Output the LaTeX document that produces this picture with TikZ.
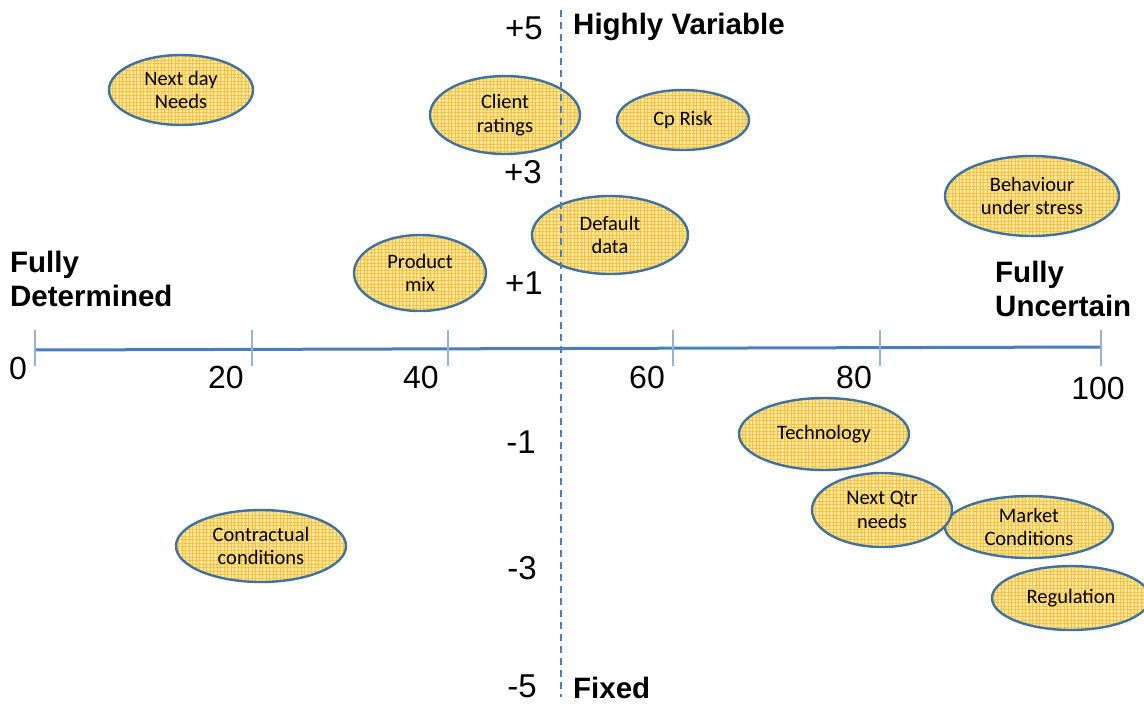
\documentclass[tikz,border=0pt]{standalone}
\usepackage{fontspec}
\setmainfont{Liberation Sans}
\newfontfamily\fatorfont{Carlito}
\usetikzlibrary{shapes.geometric,patterns.meta}
\definecolor{eixo}{HTML}{4A7EBB}
\definecolor{marca}{HTML}{95B3D7}
\definecolor{fatorfill}{HTML}{FFE796}
\definecolor{fatorgrade}{HTML}{F4C24C}
\definecolor{fatorlinha}{HTML}{41719C}
\tikzset{
  eixoh/.style={draw=eixo,line width=3pt},
  eixov/.style={draw=eixo,line width=1.8pt,dash pattern=on 7pt off 5pt},
  marcax/.style={draw=marca,line width=1.4pt},
  rotx/.style={font=\fontsize{32}{36}\selectfont,inner sep=0pt},
  roty/.style={font=\fontsize{33}{36}\selectfont,inner sep=0pt},
  titulo/.style={font=\bfseries\fontsize{29.5}{34}\selectfont,align=left,inner sep=0pt},
  fator/.style={ellipse,draw=fatorlinha,line width=2.4pt,inner sep=0pt,
    preaction={fill=fatorfill},pattern={Hatch[distance=3.5pt,line width=0.5pt]},
    pattern color=fatorgrade,align=center,font=\fatorfont\fontsize{20.5}{23.5}\selectfont},
}
\begin{document}
\begin{tikzpicture}[x=1pt,y=-1pt]
  \useasboundingbox (0,0) rectangle (1144,704);
  % fatores
  \node[fator,minimum width=144,minimum height=70] (nextday) at (181,90) {Next day\\Needs};
  \node[fator,minimum width=150,minimum height=78] (client) at (505,115) {Client\\ratings};
  \node[fator,minimum width=132,minimum height=60] (cprisk) at (683,120) {Cp Risk};
  \node[fator,minimum width=174,minimum height=80] (behaviour) at (1032,196) {Behaviour\\under stress};
  \node[fator,minimum width=156,minimum height=78] (default) at (610,235) {Default\\data};
  \node[fator,minimum width=132,minimum height=76] (product) at (420,273) {Product\\mix};
  \node[fator,minimum width=170,minimum height=72] (technology) at (824,434) {Technology};
  \node[fator,minimum width=168,minimum height=62] (market) at (1029,527) {Market\\Conditions};
  \node[fator,minimum width=140,minimum height=74] (nextqtr) at (882,510) {Next Qtr\\needs};
  \node[fator,minimum width=170,minimum height=72] (contractual) at (261,546) {Contractual\\conditions};
  \node[fator,minimum width=158,minimum height=64] (regulation) at (1071,598) {Regulation};
  % eixos
  \draw[eixoh] (35,350) -- (1102,347);
  \foreach \x in {35,252,448,673,880,1101} \draw[marcax] (\x,330) -- (\x,366);
  \draw[eixov] (561,10) -- (561,697);
  % rotulos
  \foreach \x/\y/\t in {18/368/0,226/377/20,421/377/40,647/377/60,854/377/80,1098/388/100}
    \node[rotx] (x\t) at (\x,\y) {\t};
  \node[roty] (ymais5) at (524,28) {+5};
  \node[roty] (ymais3) at (523,172) {+3};
  \node[roty] (ymais1) at (524,283) {+1};
  \node[roty] (ymenos1) at (521,442) {-1};
  \node[roty] (ymenos3) at (522,568) {-3};
  \node[roty] (ymenos5) at (522,686) {-5};
  \node[titulo,anchor=west] (variable) at (573,27) {Highly Variable};
  \node[titulo,anchor=west] (fixed) at (573,688) {Fixed};
  \node[titulo,anchor=west] (determined) at (10,279) {Fully\\Determined};
  \node[titulo,anchor=west] (uncertain) at (995,289) {Fully\\Uncertain};
\end{tikzpicture}
\end{document}
